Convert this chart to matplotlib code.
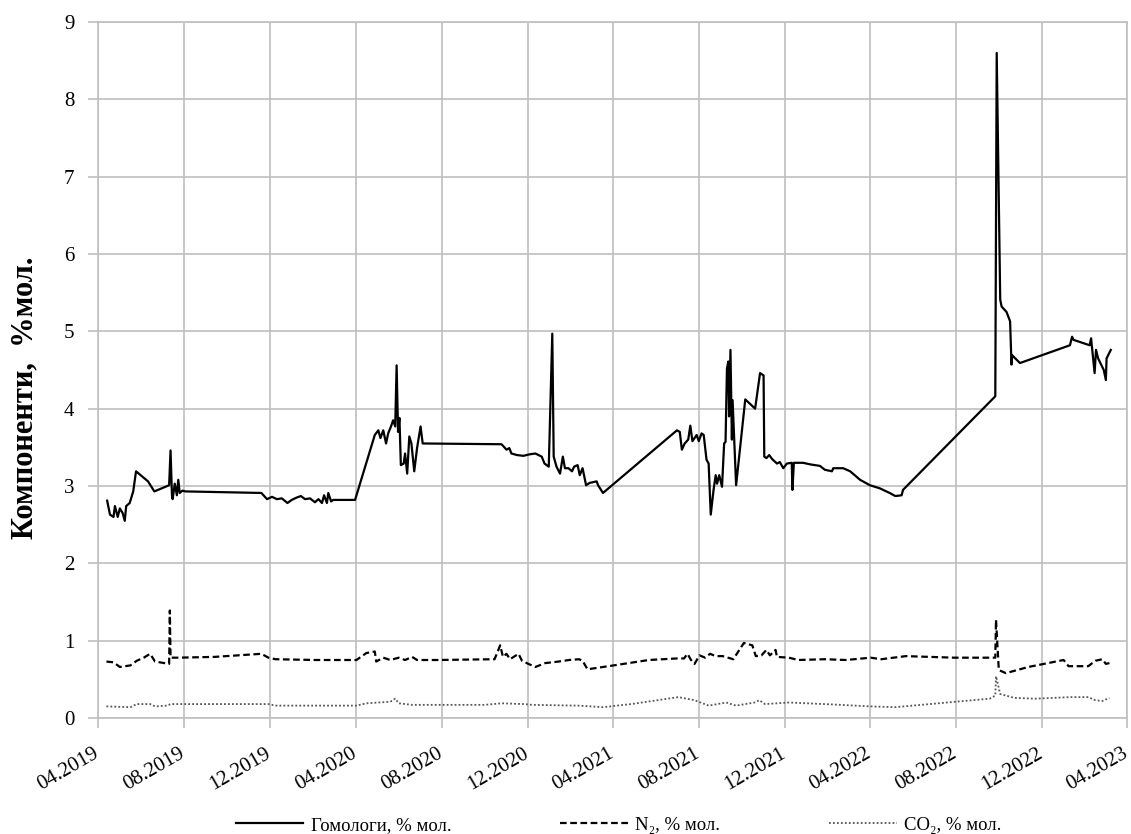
import numpy as np
import pandas as pd
import matplotlib
matplotlib.use("Agg")
import matplotlib.pyplot as plt
import matplotlib.dates as mdates
import matplotlib.transforms as mtransforms

plt.rcParams['font.family'] = ['Liberation Serif', 'DejaVu Serif']

start = pd.Timestamp('2019-04-01')

# homologues, % mol (days since start, value)
hom_days = [13, 17, 22, 24, 28, 31, 35, 38, 40, 45, 50, 54, 71, 80, 101, 103, 105, 106, 109, 112,
            114, 116, 120, 124, 232, 240, 247, 254, 261, 269, 275, 282, 288, 294, 301, 308, 313, 318,
            321, 325, 327, 331, 334, 365, 393, 398, 401, 405, 409, 412, 416, 419, 422, 424, 426, 428,
            430, 434, 436, 439, 442, 445, 449, 453, 458, 461, 573, 580, 584, 587, 595, 604, 613, 621,
            630, 634, 640, 645, 647, 651, 656, 660, 663, 668, 673, 676, 681, 684, 688, 693, 698, 708,
            710, 717, 822, 826, 829, 833, 838, 841, 844, 850, 853, 857, 860, 864, 867, 870, 874, 877,
            879, 882, 886, 889, 891, 893, 895, 896, 898, 900, 901, 906, 919, 933, 935, 940, 945, 946,
            949, 953, 957, 964, 968, 973, 978, 985, 986, 988, 1001, 1011, 1025, 1032, 1042, 1044,
            1058, 1068, 1082, 1096, 1110, 1124, 1132, 1141, 1143, 1274, 1276, 1281, 1283, 1290, 1295,
            1297, 1298, 1309, 1380, 1383, 1385, 1408, 1410, 1415, 1417, 1420, 1428, 1431, 1432, 1438]
hom_vals = [2.81, 2.63, 2.60, 2.74, 2.60, 2.71, 2.65, 2.55, 2.74, 2.78, 2.93, 3.19, 3.06, 2.93, 3.01,
            3.46, 2.88, 2.83, 3.03, 2.88, 3.08, 2.91, 2.94, 2.93, 2.91, 2.83, 2.86, 2.83, 2.84, 2.78,
            2.82, 2.85, 2.87, 2.83, 2.84, 2.79, 2.83, 2.78, 2.88, 2.78, 2.91, 2.80, 2.82, 2.82, 3.66,
            3.72, 3.62, 3.72, 3.55, 3.68, 3.77, 3.85, 3.77, 4.56, 3.70, 3.88, 3.27, 3.29, 3.42, 3.16,
            3.64, 3.55, 3.19, 3.49, 3.77, 3.55, 3.54, 3.47, 3.49, 3.42, 3.40, 3.39, 3.41, 3.42, 3.38,
            3.29, 3.25, 4.97, 3.38, 3.25, 3.16, 3.38, 3.23, 3.23, 3.19, 3.25, 3.27, 3.14, 3.23, 3.01,
            3.04, 3.06, 3.01, 2.91, 3.72, 3.70, 3.47, 3.55, 3.60, 3.78, 3.58, 3.66, 3.58, 3.68, 3.66,
            3.34, 3.29, 2.63, 2.95, 3.14, 3.03, 3.14, 2.99, 3.55, 3.57, 4.52, 4.61, 3.90, 4.76, 3.60,
            4.11, 3.01, 4.12, 4.00, 4.13, 4.46, 4.43, 3.38, 3.36, 3.40, 3.35, 3.29, 3.31, 3.23, 3.29,
            3.30, 2.95, 3.30, 3.30, 3.28, 3.26, 3.21, 3.19, 3.23, 3.23, 3.19, 3.08, 3.01, 2.97, 2.91,
            2.87, 2.88, 2.95, 4.16, 8.60, 5.41, 5.32, 5.25, 5.13, 4.57, 4.69, 4.59, 4.82, 4.93, 4.89,
            4.82, 4.91, 4.46, 4.76, 4.65, 4.50, 4.37, 4.65, 4.76]

# N2, % mol
n2_days = [12, 22, 31, 46, 55, 65, 74, 81, 101, 102, 103, 113, 165, 232, 242, 252, 309, 367, 381,
           393, 395, 405, 415, 427, 436, 446, 453, 482, 563, 568, 571, 575, 580, 585, 597, 602, 611,
           621, 635, 654, 669, 683, 688, 695, 710, 732, 782, 822, 832, 837, 842, 847, 854, 862, 869,
           877, 887, 902, 917, 929, 934, 942, 949, 954, 962, 964, 981, 994, 1032, 1062, 1097, 1112,
           1147, 1216, 1274, 1275, 1279, 1289, 1321, 1371, 1378, 1406, 1416, 1426, 1431, 1436]
n2_vals = [0.73, 0.72, 0.66, 0.68, 0.74, 0.78, 0.83, 0.73, 0.70, 1.39, 0.78, 0.78, 0.79, 0.83, 0.78,
           0.76, 0.75, 0.75, 0.84, 0.86, 0.73, 0.78, 0.75, 0.78, 0.75, 0.79, 0.75, 0.75, 0.76, 0.87,
           0.94, 0.79, 0.83, 0.76, 0.83, 0.74, 0.70, 0.66, 0.71, 0.73, 0.75, 0.76, 0.74, 0.63, 0.65,
           0.68, 0.75, 0.77, 0.77, 0.83, 0.75, 0.70, 0.81, 0.78, 0.83, 0.80, 0.80, 0.76, 0.97, 0.94,
           0.80, 0.81, 0.88, 0.81, 0.88, 0.79, 0.78, 0.75, 0.76, 0.75, 0.78, 0.76, 0.80, 0.78, 0.78,
           1.27, 0.62, 0.58, 0.66, 0.75, 0.67, 0.67, 0.74, 0.76, 0.70, 0.71]

# CO2, % mol
co2_days = [12, 46, 55, 74, 81, 98, 103, 117, 242, 252, 367, 381, 415, 422, 427, 446, 453, 549, 573,
            606, 616, 682, 717, 757, 824, 847, 867, 892, 906, 932, 939, 947, 981, 1032, 1097, 1132,
            1181, 1266, 1274, 1275, 1281, 1301, 1331, 1381, 1406, 1416, 1426, 1436]
co2_vals = [0.15, 0.14, 0.18, 0.18, 0.15, 0.16, 0.18, 0.18, 0.18, 0.16, 0.16, 0.19, 0.21, 0.25, 0.19,
            0.17, 0.17, 0.17, 0.19, 0.18, 0.17, 0.16, 0.14, 0.18, 0.27, 0.23, 0.16, 0.20, 0.16, 0.20,
            0.23, 0.18, 0.20, 0.18, 0.15, 0.14, 0.18, 0.25, 0.29, 0.54, 0.31, 0.26, 0.25, 0.27, 0.27,
            0.23, 0.22, 0.26]

labels = ['Гомологи, % мол.', 'N\u2082, % мол.', 'CO\u2082, % мол.']

def to_dates(days):
    return start + pd.to_timedelta(days, unit='D')

fig = plt.figure(figsize=(11.31, 8.34), dpi=100)
ax = fig.add_axes([98/1131, 1-718/834, (1127-98)/1131, (718-22)/834])

ax.plot(to_dates(hom_days), hom_vals, color='black', lw=1.6, ls='-', label=labels[0])
ax.plot(to_dates(n2_days), n2_vals, color='black', lw=1.6, ls=(0, (3, 1.6)), label=labels[1])
ax.plot(to_dates(co2_days), co2_vals, color='#555555', lw=1.3, ls=(0, (1, 1.2)), label=labels[2])

ax.set_xlim(pd.Timestamp('2019-04-01'), pd.Timestamp('2023-04-01'))
ax.set_ylim(0, 9)
ax.set_yticks(range(0, 10))
ax.xaxis.set_major_locator(mdates.MonthLocator(bymonth=[4, 8, 12]))
ax.xaxis.set_major_formatter(mdates.DateFormatter('%m.%Y'))

grid_c = '#bfbfbf'
ax.grid(True, color=grid_c, lw=1.2)
for s in ax.spines.values():
    s.set_color(grid_c)
    s.set_linewidth(1.2)
ax.tick_params(axis='both', colors=grid_c, length=7, width=1.2, labelcolor='black', labelsize=15)
ax.tick_params(axis='y', pad=10)
ax.tick_params(axis='x', pad=12)
# shift rotated date labels a little left so the last one stays inside the figure
shift = mtransforms.ScaledTranslation(-5/100, 0, fig.dpi_scale_trans)
for lbl in ax.get_xticklabels():
    lbl.set_rotation(30)
    lbl.set_ha('right')
    lbl.set_rotation_mode('anchor')
    lbl.set_transform(lbl.get_transform() + shift)

ax.set_ylabel('Компоненти,  %мол.', fontsize=22, fontweight='bold')
ax.yaxis.set_label_coords(-0.057, 0.46)

fig.legend(loc='lower center', bbox_to_anchor=(0.547, -0.02), ncol=3, frameon=False,
           fontsize=13.5, handlelength=3.6, columnspacing=5.8, handletextpad=0.4)

fig.savefig('out.png', dpi=100)
